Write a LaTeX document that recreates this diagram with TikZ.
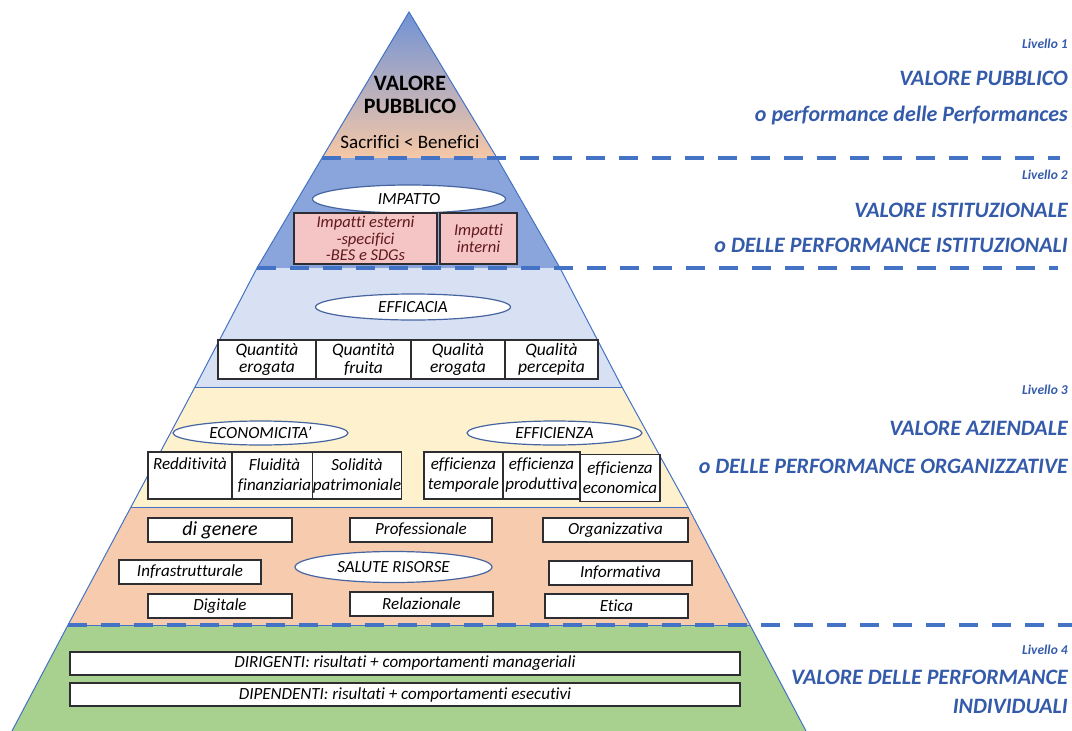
\documentclass[tikz,border=0pt]{standalone}
\usepackage{fontspec}
\setmainfont{Carlito}[Ligatures=NoCommon]
\usetikzlibrary{shapes.geometric}
\definecolor{edgeblue}{RGB}{68,114,196}
\definecolor{rblue}{RGB}{52,90,170}
\definecolor{bandtwo}{RGB}{137,165,220}
\definecolor{bandthree}{RGB}{216,225,243}
\definecolor{bandfour}{RGB}{254,241,205}
\definecolor{bandfive}{RGB}{247,204,174}
\definecolor{bandsix}{RGB}{168,208,142}
\definecolor{topblue}{RGB}{112,146,214}
\definecolor{topyellow}{RGB}{250,234,198}
\definecolor{toppeach}{RGB}{246,200,166}
\definecolor{pinkbox}{RGB}{245,196,196}
\definecolor{maroontxt}{RGB}{95,25,30}
\definecolor{boxline}{RGB}{45,45,50}
\definecolor{ellline}{RGB}{70,100,160}
\begin{document}
\begin{tikzpicture}[x=1pt,y=-1pt,
  edge/.style={draw=edgeblue, line width=1pt},
  dashln/.style={draw=edgeblue, line width=4pt, dash pattern=on 19pt off 14pt},
  boxst/.style={draw=boxline, line width=1.3pt, fill=white, inner sep=0pt, align=center, font=\itshape\fontsize{17.5}{17.5}\selectfont},
  pinkst/.style={boxst, fill=pinkbox, line width=2pt, text=maroontxt, font=\itshape\fontsize{16.5}{16.5}\selectfont},
  ell/.style={ellipse, draw=ellline, line width=1.2pt, fill=white, inner sep=0pt, font=\itshape\fontsize{17}{18}\selectfont},
  ttl/.style={inner sep=0pt, align=center, font=\bfseries\fontsize{22}{24}\selectfont},
  rtxt/.style={anchor=east, inner sep=0pt, text=rblue, font=\bfseries\itshape\fontsize{22}{26}\selectfont},
  lvl/.style={anchor=east, inner sep=0pt, text=rblue, font=\bfseries\itshape\fontsize{13.5}{15}\selectfont}]
\useasboundingbox (0,0) rectangle (1072,731);
% pyramid corner points
\coordinate (A) at (409,12);
\coordinate (L1) at (322,158); \coordinate (R1) at (497,158);
\coordinate (L2) at (257,268); \coordinate (R2) at (560,268);
\coordinate (L3) at (195,387); \coordinate (R3) at (622,387);
\coordinate (L4) at (131,507); \coordinate (R4) at (688,507);
\coordinate (L5) at (68,625);  \coordinate (R5) at (750,625);
\coordinate (L6) at (12,731);  \coordinate (R6) at (806,731);
% bands
\shade[top color=topblue, middle color=topyellow, bottom color=toppeach] (A) -- (R1) -- (L1) -- cycle;
\fill[bandtwo] (L1) -- (R1) -- (R2) -- (L2) -- cycle;
\fill[bandthree] (L2) -- (R2) -- (R3) -- (L3) -- cycle;
\fill[bandfour] (L3) -- (R3) -- (R4) -- (L4) -- cycle;
\fill[bandfive] (L4) -- (R4) -- (R5) -- (L5) -- cycle;
\fill[bandsix] (L5) -- (R5) -- (R6) -- (L6) -- cycle;
\draw[edge] (L6) -- (L5) -- (L4) -- (L3) -- (L2) -- (L1) -- (A) -- (R1) -- (R2) -- (R3) -- (R4) -- (R5) -- (R6);
\draw[edge] (L3) -- (R3);
\draw[edge] (L4) -- (R4);
\draw[edge] (L5) -- (R5);
% dashed level separators
\coordinate (D1) at (1060,158);
\coordinate (D2) at (1058,268);
\coordinate (D5) at (1072,625);
\draw[dashln] (L1) -- (D1);
\draw[dashln] (L2) -- (D2);
\draw[dashln] (L5) -- (D5);
% level 1
\node[ttl] (vp) at (410,95) {VALORE\\[-1pt]PUBBLICO};
\node[inner sep=0pt, font=\fontsize{19}{20}\selectfont] (sb) at (410,142) {Sacrifici < Benefici};
% level 2
\node[ell, minimum width=193pt, minimum height=28pt] (imp) at (409,199) {IMPATTO};
\node[pinkst, minimum width=143pt, minimum height=51pt] (ie) at (365.5,238.5) {Impatti esterni\\-specifici\\-BES e SDGs};
\node[pinkst, minimum width=77pt, minimum height=51pt] (ii) at (478.5,238.5) {Impatti\\interni};
% efficacia
\node[ell, minimum width=195pt, minimum height=26pt] (eff) at (413,307) {EFFICACIA};
\node[boxst, minimum width=98pt, minimum height=39pt] (q1) at (267,359.5) {Quantità\\erogata};
\node[boxst, minimum width=95pt, minimum height=39pt] (q2) at (363.5,359.5) {Quantità\\fruita};
\node[boxst, minimum width=94pt, minimum height=39pt] (q3) at (458,359.5) {Qualità\\erogata};
\node[boxst, minimum width=93pt, minimum height=39pt] (q4) at (551.5,359.5) {Qualità\\percepita};
% economicita / efficienza
\node[ell, minimum width=175pt, minimum height=24pt] (eco) at (260.5,433) {ECONOMICITA’};
\node[ell, minimum width=175pt, minimum height=24pt] (efz) at (554.5,433) {EFFICIENZA};
\node[boxst, minimum width=84pt, minimum height=47pt, font=\itshape\fontsize{17}{20}\selectfont] (e1) at (190,475.5) {Redditività\\\phantom{g}};
\node[boxst, minimum width=85pt, minimum height=47pt, font=\itshape\fontsize{17}{20}\selectfont] (e2) at (274.5,475.5) {Fluidità\\finanziaria};
\node[boxst, minimum width=80pt, minimum height=47pt, font=\itshape\fontsize{17}{20}\selectfont] (e3) at (357,475.5) {Solidità\\patrimoniale};
\node[boxst, minimum width=79pt, minimum height=47pt, font=\itshape\fontsize{17}{20}\selectfont] (f1) at (463.5,475.5) {efficienza\\temporale};
\node[boxst, minimum width=77pt, minimum height=47pt, font=\itshape\fontsize{17}{20}\selectfont] (f2) at (541.5,475.5) {efficienza\\produttiva};
\node[boxst, minimum width=80pt, minimum height=47pt, font=\itshape\fontsize{17}{20}\selectfont] (f3) at (620,478) {efficienza\\economica};
% salute risorse
\node[ell, minimum width=197pt, minimum height=31pt] (sal) at (393.5,567) {SALUTE RISORSE};
\node[boxst, minimum width=144pt, minimum height=24pt, font=\itshape\fontsize{20}{20}\selectfont] (s1) at (220,530) {di genere};
\node[boxst, minimum width=142pt, minimum height=24pt, font=\itshape\fontsize{17}{18}\selectfont] (s2) at (421,530) {Professionale};
\node[boxst, minimum width=145pt, minimum height=24pt, font=\itshape\fontsize{17}{18}\selectfont] (s3) at (615.5,530) {Organizzativa};
\node[boxst, minimum width=142pt, minimum height=24pt, font=\itshape\fontsize{17}{18}\selectfont] (s4) at (190,572) {Infrastrutturale};
\node[boxst, minimum width=143pt, minimum height=24pt, font=\itshape\fontsize{17}{18}\selectfont] (s5) at (620.5,573) {Informativa};
\node[boxst, minimum width=144pt, minimum height=24pt, font=\itshape\fontsize{17}{18}\selectfont] (s6) at (220,606) {Digitale};
\node[boxst, minimum width=143pt, minimum height=24pt, font=\itshape\fontsize{17}{18}\selectfont] (s7) at (421.5,604) {Relazionale};
\node[boxst, minimum width=143pt, minimum height=24pt, font=\itshape\fontsize{17}{18}\selectfont] (s8) at (616.5,606) {Etica};
% individuali
\node[boxst, minimum width=670pt, minimum height=23pt, font=\itshape\fontsize{17}{18}\selectfont] (dir) at (405,663.5) {DIRIGENTI: risultati + comportamenti manageriali};
\node[boxst, minimum width=670pt, minimum height=23pt, font=\itshape\fontsize{17}{18}\selectfont] (dip) at (405,694.5) {DIPENDENTI: risultati + comportamenti esecutivi};
% right labels
\node[lvl] (l1) at (1068,44) {Livello 1};
\node[rtxt] (t1a) at (1068,78) {VALORE PUBBLICO};
\node[rtxt] (t1b) at (1068,116) {o performance delle Performances};
\node[lvl] (l2) at (1068,175) {Livello 2};
\node[rtxt] (t2a) at (1068,210) {VALORE ISTITUZIONALE};
\node[rtxt] (t2b) at (1068,245) {o DELLE PERFORMANCE ISTITUZIONALI};
\node[lvl] (l3) at (1068,390) {Livello 3};
\node[rtxt] (t3a) at (1068,428) {VALORE AZIENDALE};
\node[rtxt] (t3b) at (1068,466) {o DELLE PERFORMANCE ORGANIZZATIVE};
\node[lvl] (l4) at (1068,650) {Livello 4};
\node[rtxt] (t4a) at (1068,677) {VALORE DELLE PERFORMANCE};
\node[rtxt] (t4b) at (1068,706) {INDIVIDUALI};
\end{tikzpicture}
\end{document}
